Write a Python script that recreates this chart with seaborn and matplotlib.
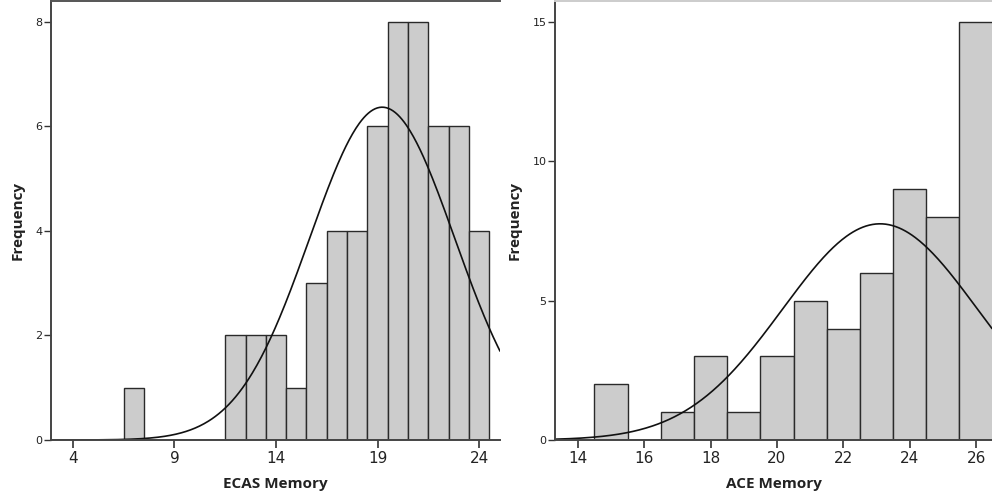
import numpy as np
import pandas as pd
import matplotlib
matplotlib.use("Agg")
import matplotlib.pyplot as plt
import seaborn as sns

# ECAS Memory histogram (score -> frequency)
ecas_scores = [7, 12, 13, 14, 15, 16, 17, 18, 19, 20, 21, 22, 23, 24]
ecas_counts = [1, 2, 2, 2, 1, 3, 4, 4, 6, 8, 8, 6, 6, 4]
ecas_xticks = [4, 9, 14, 19, 24]
ecas_yticks = [0, 2, 4, 6, 8]

# ACE Memory histogram (score -> frequency)
ace_scores = [15, 17, 18, 19, 20, 21, 22, 23, 24, 25, 26]
ace_counts = [2, 1, 3, 1, 3, 5, 4, 6, 9, 8, 15]
ace_xticks = [14, 16, 18, 20, 22, 24, 26]
ace_yticks = [0, 5, 10, 15]

sns.set_theme(style="white")
plt.rcParams['font.family'] = ['DejaVu Sans']

fig = plt.figure(figsize=(9.92, 4.98), dpi=100)
W, H = 992, 498
ax1 = fig.add_axes([51 / W, 58 / H, (500 - 51) / W, (440 - 1) / H])
ax2 = fig.add_axes([555 / W, 58 / H, (992 - 555) / W, (440 - 1) / H])


def draw(ax, scores, counts, xlim, ylim, xticks, yticks, xlabel, top_color):
    df = pd.DataFrame({"score": scores, "count": counts})
    sns.histplot(data=df, x="score", weights="count", discrete=True, ax=ax,
                 color="#cccccc", edgecolor="#2a2a2a", linewidth=1.0, alpha=1.0)
    vals = np.repeat(np.array(scores, float), counts)
    n = len(vals)
    mu = vals.mean()
    sd = vals.std(ddof=1)
    xs = np.linspace(xlim[0], xlim[1], 400)
    ys = n * 1.0 * np.exp(-0.5 * ((xs - mu) / sd) ** 2) / (sd * np.sqrt(2 * np.pi))
    sns.lineplot(x=xs, y=ys, ax=ax, color="#111111", linewidth=1.2)
    ax.set_xlim(*xlim)
    ax.set_ylim(*ylim)
    ax.set_xticks(xticks)
    ax.set_yticks(yticks)
    ax.tick_params(axis="x", direction="out", length=6, width=1.2, color="#333333",
                   labelsize=11, labelcolor="#222222", pad=2, bottom=True)
    ax.tick_params(axis="y", direction="out", length=5, width=1.0, color="#333333",
                   labelsize=8, labelcolor="#222222", pad=1, left=True)
    ax.set_xlabel(xlabel, fontsize=11, fontweight="bold", family="Open Sans",
                  color="#222222", labelpad=8)
    ax.set_ylabel("Frequency", fontsize=11, fontweight="bold", family="Open Sans",
                  color="#222222", labelpad=8)
    for s in ["left", "bottom"]:
        ax.spines[s].set_color("#444444")
        ax.spines[s].set_linewidth(1.4)
    ax.spines["right"].set_visible(False)
    ax.spines["top"].set_color(top_color)
    ax.spines["top"].set_linewidth(1.4)
    ax.grid(False)


draw(ax1, ecas_scores, ecas_counts, (2.92, 25.03), (0, 8.40), ecas_xticks,
     ecas_yticks, "ECAS Memory", "#555555")
draw(ax2, ace_scores, ace_counts, (13.31, 26.48), (0, 15.75), ace_xticks,
     ace_yticks, "ACE Memory", "#cccccc")

fig.savefig("out.png", dpi=100)
